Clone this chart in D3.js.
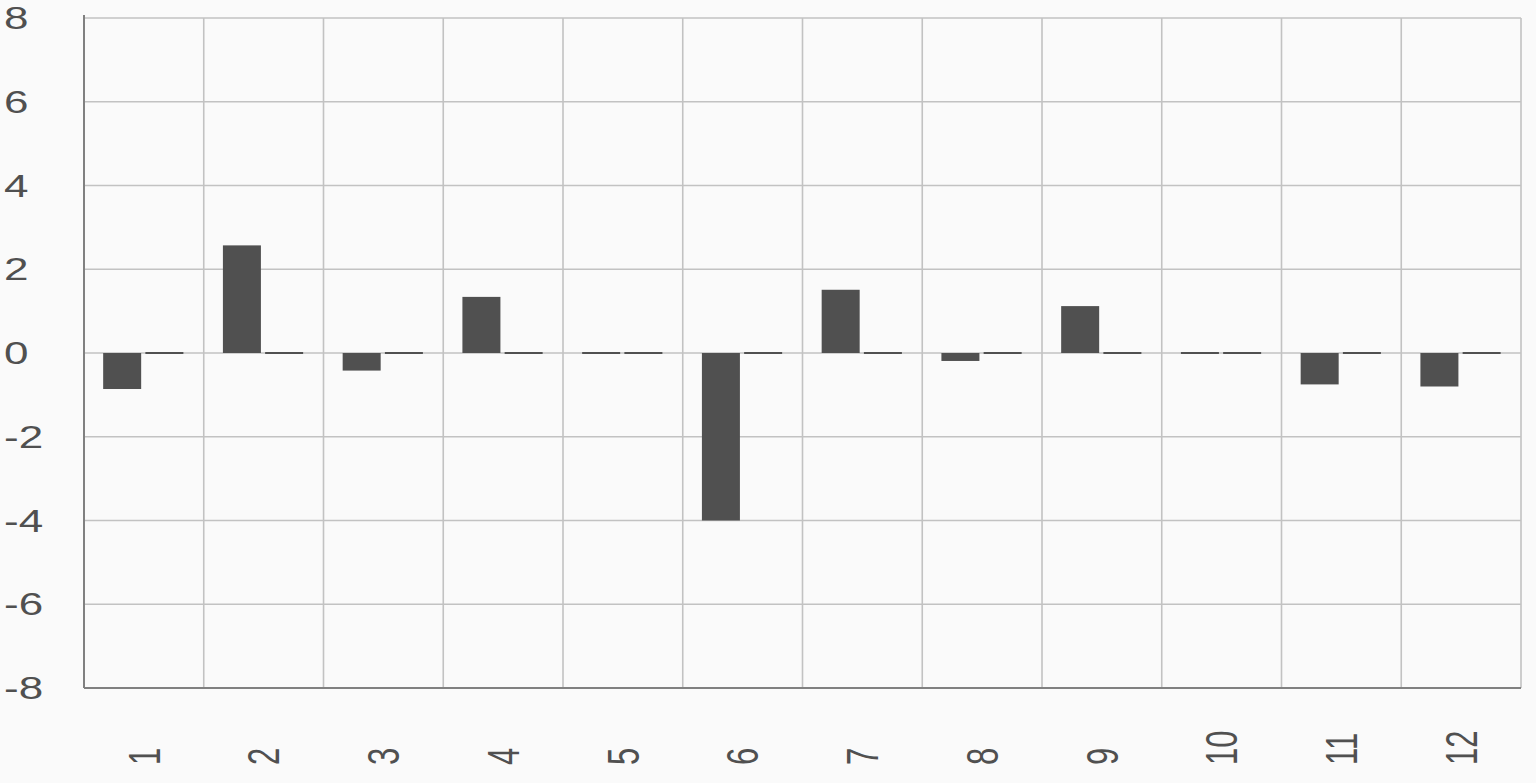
<html>
<head>
  <meta charset="utf-8">
  <script src="https://d3js.org/d3.v7.min.js"></script>
  <style>
    body { margin: 0; background: #fafafa; }
    text { font-family: "Liberation Sans", Arial, sans-serif; fill: #505050; }
  </style>
  <script>
    var categories = ["1", "2", "3", "4", "5", "6", "7", "8", "9", "10", "11", "12"];
    var seriesA = [-0.86, 2.57, -0.42, 1.34, 0, -4.0, 1.51, -0.19, 1.12, 0, -0.75, -0.80];
    var seriesB = [0, 0, 0, 0, 0, 0, 0, 0, 0, 0, 0, 0];
    var yTicks = [-8, -6, -4, -2, 0, 2, 4, 6, 8];

    function makeChart() {
      var svg = d3.select( "#chart" );
      var left = 84, right = 1521, top = 18, bottom = 688;
      var stretch = 1.42;   // text in the picture is wider than tall

      var x0 = d3.scaleBand().domain( categories ).range( [left, right] );
      var bw = x0.bandwidth();
      var x1 = d3.scaleBand().domain( ["a", "b"] )
          .range( [0.16*bw, 0.83*bw] ).paddingInner( 0.1 );
      var y = d3.scaleLinear().domain( [-8, 8] ).range( [bottom, top] );

      // horizontal grid
      svg.append( "g" ).selectAll( "line" ).data( yTicks ).enter()
        .append( "line" )
        .attr( "x1", left ).attr( "x2", right )
        .attr( "y1", d=>y(d) ).attr( "y2", d=>y(d) )
        .attr( "stroke", "#c2c2c2" ).attr( "stroke-width", 1.6 );

      // vertical grid at band edges
      var edges = categories.map( c => x0(c) ).concat( [right] );
      svg.append( "g" ).selectAll( "line" ).data( edges.slice(1) ).enter()
        .append( "line" )
        .attr( "x1", d=>d ).attr( "x2", d=>d )
        .attr( "y1", top ).attr( "y2", bottom )
        .attr( "stroke", "#c2c2c2" ).attr( "stroke-width", 1.6 );

      // bars
      var rows = categories.map( (c, i) => ({ cat: c, vals: [
          { key: "a", v: seriesA[i] }, { key: "b", v: seriesB[i] } ] }) );
      svg.append( "g" ).selectAll( "g" ).data( rows ).enter()
        .append( "g" ).attr( "transform", d => "translate(" + x0(d.cat) + ",0)" )
        .selectAll( "rect" ).data( d => d.vals ).enter()
        .append( "rect" )
        .attr( "x", d => x1(d.key) ).attr( "width", x1.bandwidth() )
        .attr( "y", d => d.v === 0 ? y(0) - 1 : Math.min( y(0), y(d.v) ) )
        .attr( "height", d => Math.max( Math.abs( y(d.v) - y(0) ), 2 ) )
        .attr( "fill", "#505050" );

      // axes lines
      svg.append( "line" ).attr( "x1", left ).attr( "x2", left )
        .attr( "y1", top - 3 ).attr( "y2", bottom )
        .attr( "stroke", "#808080" ).attr( "stroke-width", 2 );
      svg.append( "line" ).attr( "x1", left ).attr( "x2", right )
        .attr( "y1", bottom ).attr( "y2", bottom )
        .attr( "stroke", "#808080" ).attr( "stroke-width", 2 );

      // y labels
      svg.append( "g" ).selectAll( "text" ).data( yTicks ).enter()
        .append( "text" )
        .attr( "transform", d => "translate(4," + y(d) + ") scale(" + stretch + ",1)" )
        .attr( "dy", "0.36em" ).attr( "font-size", 31 )
        .text( d => d );

      // x labels, rotated
      svg.append( "g" ).selectAll( "text" ).data( categories ).enter()
        .append( "text" )
        .attr( "transform", d => "translate(" + (x0(d) + bw/2) + ",765) scale(" + stretch + ",1) rotate(-90)" )
        .attr( "dy", "0.36em" ).attr( "font-size", 31 )
        .text( d => d );
    }
  </script>
</head>

<body onload="makeChart()">
  <svg id="chart" width="1536" height="783" style="background:#fafafa; display:block">
  </svg>
</body>
</html>
